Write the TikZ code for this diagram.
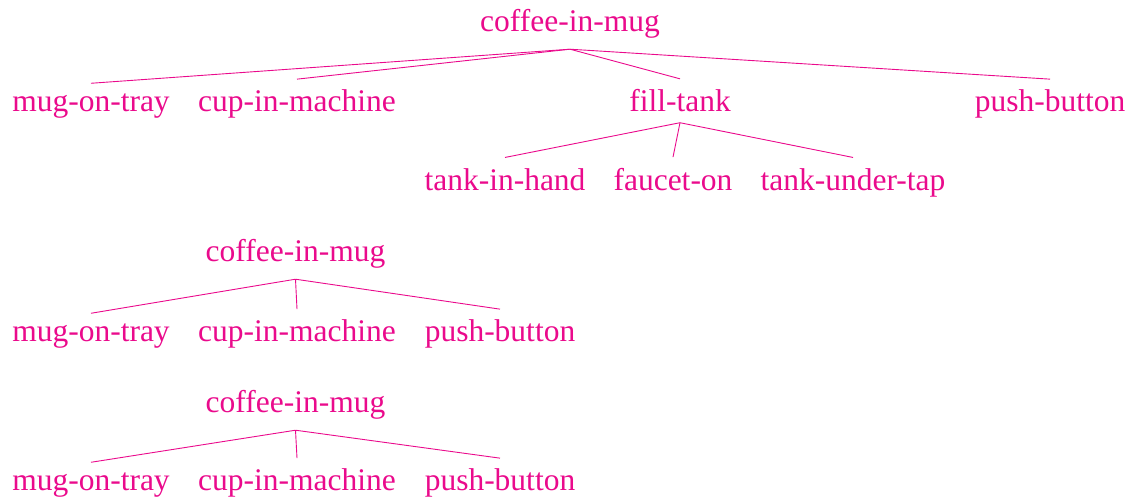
\documentclass[tikz,border=0pt]{standalone}
\usepackage{fontspec}
\setmainfont{Liberation Serif}
\definecolor{treepink}{RGB}{234,10,140}
\begin{document}
\begin{tikzpicture}[x=1pt,y=-1pt,
  lbl/.style={anchor=base,inner xsep=0pt,inner ysep=10.5pt,text=treepink,
    font=\fontsize{31.5}{36}\selectfont},
  edge/.style={draw=treepink,line width=0.9pt}]
\useasboundingbox (0,0) rectangle (1129,499);

% first tree: the full plan
\node[lbl] (r1)  at (570,31.7)  {coffee-in-mug};
\node[lbl] (a1)  at (91,111.7)  {mug-on-tray};
\node[lbl] (b1)  at (297,111.7) {cup-in-machine};
\node[lbl] (f1)  at (680,111.7) {fill-tank};
\node[lbl] (p1)  at (1050,111.7) {push-button};
\node[lbl] (t1)  at (505,190)   {tank-in-hand};
\node[lbl] (u1)  at (673,190)   {faucet-on};
\node[lbl] (v1)  at (853,190)   {tank-under-tap};
\foreach \c in {a1,b1,f1,p1} \draw[edge] (r1.south) -- (\c.north);
\foreach \c in {t1,u1,v1} \draw[edge] (f1.south) -- (\c.north);

% second tree
\node[lbl] (r2)  at (295.5,261.7) {coffee-in-mug};
\node[lbl] (a2)  at (91,341.7)  {mug-on-tray};
\node[lbl] (b2)  at (297,341.7) {cup-in-machine};
\node[lbl] (p2)  at (500,341.7) {push-button};
\foreach \c in {a2,b2,p2} \draw[edge] (r2.south) -- (\c.north);

% third tree
\node[lbl] (r3)  at (295.5,412.7) {coffee-in-mug};
\node[lbl] (a3)  at (91,490.7)  {mug-on-tray};
\node[lbl] (b3)  at (297,490.7) {cup-in-machine};
\node[lbl] (p3)  at (500,490.7) {push-button};
\foreach \c in {a3,b3,p3} \draw[edge] (r3.south) -- (\c.north);
\end{tikzpicture}
\end{document}
